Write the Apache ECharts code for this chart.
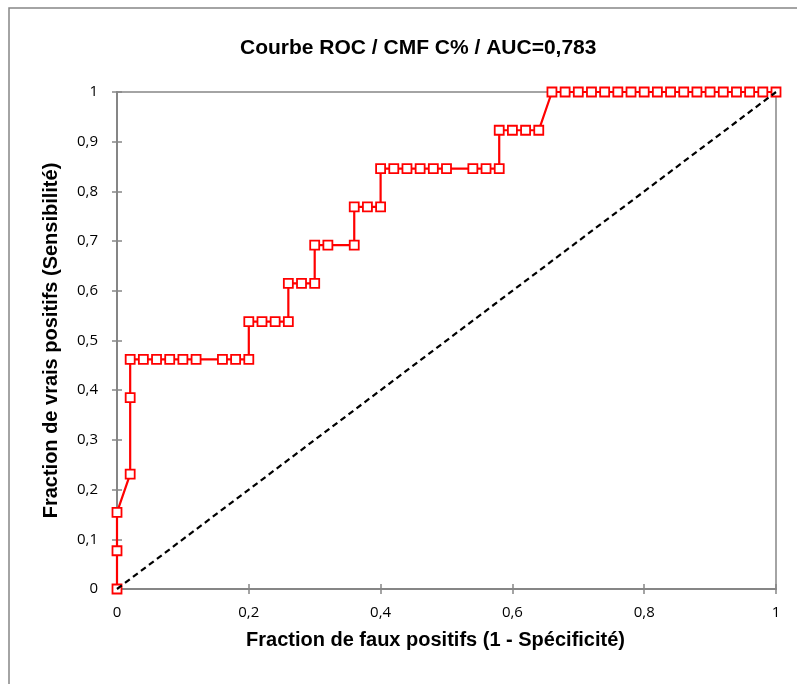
<!DOCTYPE html>
<html>
<head>
<meta charset="utf-8">
<script src="https://cdn.jsdelivr.net/npm/echarts@6/dist/echarts.min.js"></script>
<style>
html,body{margin:0;padding:0;background:#fff;}
#chart{width:797px;height:684px;}
</style>
</head>
<body>
<div id="chart"></div>
<script>
// ROC curve points: false positive fraction (x) and true positive fraction (y)
const fpr = [0, 0, 0, 0.02, 0.02, 0.02, 0.04, 0.06, 0.08, 0.10, 0.12, 0.16, 0.18, 0.20,
  0.20, 0.22, 0.24, 0.26, 0.26, 0.28, 0.30, 0.30, 0.32, 0.36, 0.36, 0.38, 0.40,
  0.40, 0.42, 0.44, 0.46, 0.48, 0.50, 0.54, 0.56, 0.58, 0.58, 0.60, 0.62, 0.64,
  0.66, 0.68, 0.70, 0.72, 0.74, 0.76, 0.78, 0.80, 0.82, 0.84, 0.86, 0.88, 0.90,
  0.92, 0.94, 0.96, 0.98, 1.00];
const tpr = [0, 0.077, 0.154, 0.231, 0.385, 0.462, 0.462, 0.462, 0.462, 0.462, 0.462, 0.462, 0.462, 0.462,
  0.538, 0.538, 0.538, 0.538, 0.615, 0.615, 0.615, 0.692, 0.692, 0.692, 0.769, 0.769, 0.769,
  0.846, 0.846, 0.846, 0.846, 0.846, 0.846, 0.846, 0.846, 0.846, 0.923, 0.923, 0.923, 0.923,
  1, 1, 1, 1, 1, 1, 1, 1, 1, 1, 1, 1, 1,
  1, 1, 1, 1, 1];
const diagX = [0, 1];
const diagY = [0, 1];
const titleText = 'Courbe ROC / CMF C% / AUC=0,783';
const xTitle = 'Fraction de faux positifs (1 - Spécificité)';
const yTitle = 'Fraction de vrais positifs (Sensibilité)';

const rocData = fpr.map((x, i) => [x, tpr[i]]);
const diagData = diagX.map((x, i) => [x, diagY[i]]);
const fmt = v => String(+v.toFixed(1)).replace('.', ',');
const axisGrey = '#868686';
const tickFont = {fontFamily: 'Open Sans, Liberation Sans, sans-serif', fontSize: 15, color: '#000'};

const chart = echarts.init(document.getElementById('chart'));
chart.setOption({
  animation: false,
  backgroundColor: '#fff',
  title: {
    text: titleText,
    left: 235,
    top: 33,
    textStyle: {fontFamily: 'Liberation Sans, Arial, sans-serif', fontWeight: 'bold', fontSize: 21, color: '#000'}
  },
  graphic: [{
    type: 'rect', silent: true, z: -1,
    shape: {x: 9, y: 8, width: 820, height: 720},
    style: {fill: 'none', stroke: axisGrey, lineWidth: 1.5}
  }],
  grid: {left: 117, right: 21, top: 92, bottom: 95, show: true, borderColor: axisGrey, borderWidth: 1.5, outerBoundsMode: 'none'},
  xAxis: [{
    type: 'value', min: 0, max: 1, interval: 0.2,
    name: xTitle, nameLocation: 'middle', nameGap: 41,
    nameTextStyle: {fontFamily: 'Liberation Sans, Arial, sans-serif', fontWeight: 'bold', fontSize: 20, color: '#000', padding: [0, 22, 0, 0]},
    axisLine: {show: true, lineStyle: {color: axisGrey, width: 2}},
    axisTick: {show: true, inside: false, length: 5, lineStyle: {color: axisGrey, width: 1.5}},
    axisLabel: Object.assign({margin: 16, formatter: fmt}, tickFont),
    splitLine: {show: false}
  }, {
    type: 'value', min: 0, max: 1, interval: 0.2, position: 'bottom', gridIndex: 0,
    axisLine: {show: false},
    axisTick: {show: true, inside: true, length: 5, lineStyle: {color: axisGrey, width: 1.5}},
    axisLabel: {show: false}, splitLine: {show: false}
  }],
  yAxis: [{
    type: 'value', min: 0, max: 1, interval: 0.1,
    name: yTitle, nameLocation: 'middle', nameGap: 56,
    nameTextStyle: {fontFamily: 'Liberation Sans, Arial, sans-serif', fontWeight: 'bold', fontSize: 20, color: '#000'},
    axisLine: {show: true, lineStyle: {color: axisGrey, width: 2}},
    axisTick: {show: true, inside: false, length: 5, lineStyle: {color: axisGrey, width: 1.5}},
    axisLabel: Object.assign({margin: 19, formatter: fmt}, tickFont),
    splitLine: {show: false}
  }, {
    type: 'value', min: 0, max: 1, interval: 0.1, position: 'left', gridIndex: 0,
    axisLine: {show: false},
    axisTick: {show: true, inside: true, length: 5, lineStyle: {color: axisGrey, width: 1.5}},
    axisLabel: {show: false}, splitLine: {show: false}
  }],
  series: [{
    type: 'line',
    data: rocData,
    symbol: 'rect',
    symbolSize: 9,
    showAllSymbol: true,
    lineStyle: {color: '#ff0000', width: 2.2},
    itemStyle: {color: '#ffffff', borderColor: '#ff0000', borderWidth: 1.8},
    emphasis: {disabled: true},
    z: 2
  }, {
    type: 'line',
    data: diagData,
    symbol: 'none',
    lineStyle: {color: '#000', width: 2.2, type: [6, 4]},
    emphasis: {disabled: true},
    z: 3
  }]
});
</script>
</body>
</html>
